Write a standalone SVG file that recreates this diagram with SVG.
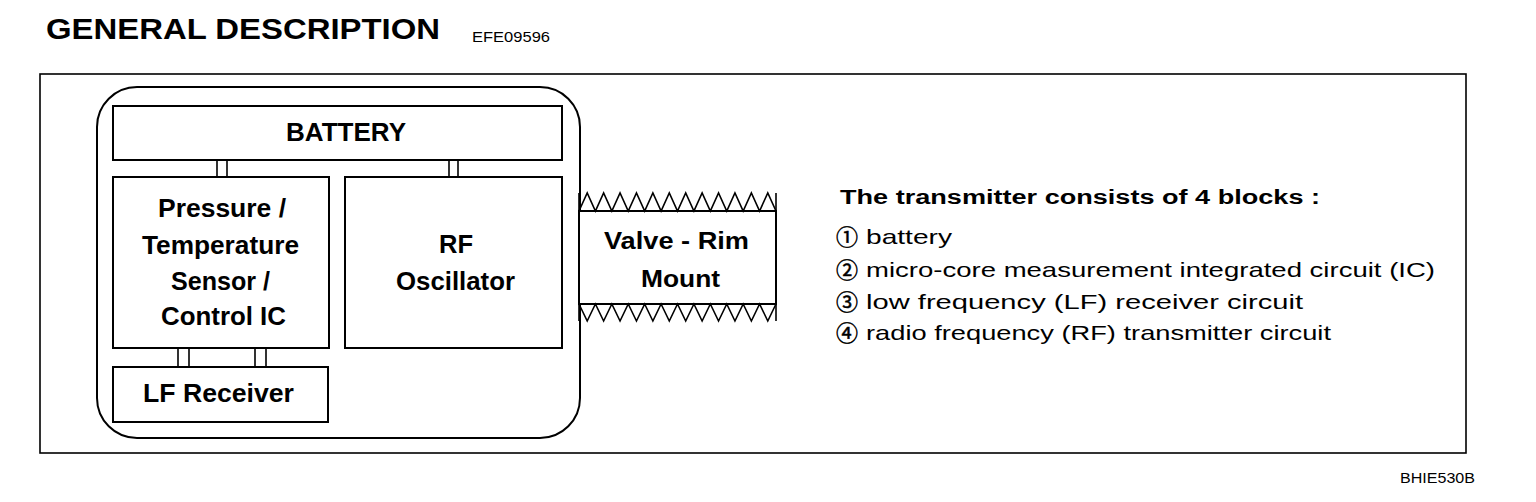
<svg xmlns="http://www.w3.org/2000/svg" width="1536" height="502" viewBox="0 0 1536 502">
<style>
.bg{fill:#ffffff}
.frame{fill:none;stroke:#000;stroke-width:1.6}
.box{fill:#fff;stroke:#000;stroke-width:2}
.link{fill:#fff;stroke:#000;stroke-width:1.6}
.lbl{font-family:"Liberation Sans",Arial,sans-serif;font-weight:bold;fill:#000;text-anchor:start}
.item{font-family:"Liberation Sans","DejaVu Sans",Arial,sans-serif;fill:#000}
.num{font-family:"Noto Sans CJK JP","DejaVu Sans",sans-serif;fill:#000;stroke:#000;stroke-width:0.5}
</style>
<rect class="bg" x="0" y="0" width="1536" height="502"/>
<g id="header">
<text class="lbl" x="46" y="39" font-size="29" textLength="394" lengthAdjust="spacingAndGlyphs">GENERAL DESCRIPTION</text>
<text class="item" x="472" y="42" font-size="14" textLength="78" lengthAdjust="spacingAndGlyphs">EFE09596</text>
</g>
<rect id="panel" class="frame" x="40" y="74" width="1426" height="379"/>
<g id="transmitter">
<rect class="box" x="97" y="87" width="483" height="351" rx="40" ry="40"/>
</g>
<g id="connectors">
<rect class="link" x="217" y="160" width="10" height="17"/>
<rect class="link" x="449" y="160" width="9" height="17"/>
<rect class="link" x="178" y="348" width="11" height="19"/>
<rect class="link" x="255" y="348" width="11" height="19"/>
</g>
<g id="battery">
<rect class="box" x="113" y="106" width="449" height="54"/>
<text class="lbl" x="286" y="141" font-size="25" textLength="120" lengthAdjust="spacingAndGlyphs">BATTERY</text>
</g>
<g id="sensor-ic">
<rect class="box" x="113" y="177" width="216" height="171"/>
<text class="lbl" x="158" y="217" font-size="25" textLength="128" lengthAdjust="spacingAndGlyphs">Pressure /</text>
<text class="lbl" x="142" y="254" font-size="25" textLength="157" lengthAdjust="spacingAndGlyphs">Temperature</text>
<text class="lbl" x="171" y="290" font-size="25" textLength="99" lengthAdjust="spacingAndGlyphs">Sensor /</text>
<text class="lbl" x="161" y="325" font-size="25" textLength="125" lengthAdjust="spacingAndGlyphs">Control IC</text>
</g>
<g id="rf-oscillator">
<rect class="box" x="345" y="177" width="217" height="171"/>
<text class="lbl" x="439" y="253" font-size="25" textLength="34" lengthAdjust="spacingAndGlyphs">RF</text>
<text class="lbl" x="396" y="290" font-size="25" textLength="119" lengthAdjust="spacingAndGlyphs">Oscillator</text>
</g>
<g id="lf-receiver">
<rect class="box" x="113" y="367" width="215" height="55"/>
<text class="lbl" x="143" y="402" font-size="25" textLength="151" lengthAdjust="spacingAndGlyphs">LF Receiver</text>
</g>
<g id="valve-rim-mount">
<rect class="box" x="579" y="211" width="197" height="93"/>
<path class="frame" d="M579,193 V321 M776,193 V321"/>
<path class="frame" d="M579,211 l8.208,-18 l8.208,18 l8.208,-18 l8.208,18 l8.208,-18 l8.208,18 l8.208,-18 l8.208,18 l8.208,-18 l8.208,18 l8.208,-18 l8.208,18 l8.208,-18 l8.208,18 l8.208,-18 l8.208,18 l8.208,-18 l8.208,18 l8.208,-18 l8.208,18 l8.208,-18 l8.208,18 l8.208,-18 l8.208,18"/>
<path class="frame" d="M579,304 l8.208,17 l8.208,-17 l8.208,17 l8.208,-17 l8.208,17 l8.208,-17 l8.208,17 l8.208,-17 l8.208,17 l8.208,-17 l8.208,17 l8.208,-17 l8.208,17 l8.208,-17 l8.208,17 l8.208,-17 l8.208,17 l8.208,-17 l8.208,17 l8.208,-17 l8.208,17 l8.208,-17 l8.208,17 l8.208,-17"/>
<text class="lbl" x="604" y="249" font-size="23" textLength="145" lengthAdjust="spacingAndGlyphs">Valve - Rim</text>
<text class="lbl" x="641" y="287" font-size="23" textLength="79" lengthAdjust="spacingAndGlyphs">Mount</text>
</g>
<g id="description">
<text class="lbl" x="840" y="204" font-size="20" textLength="480" lengthAdjust="spacingAndGlyphs">The transmitter consists of 4 blocks :</text>
<text class="num" x="836" y="245" font-size="22">①</text>
<text class="item" x="866" y="244" font-size="21" textLength="86" lengthAdjust="spacingAndGlyphs">battery</text>
<text class="num" x="836" y="278" font-size="22">②</text>
<text class="item" x="866" y="277" font-size="21" textLength="569" lengthAdjust="spacingAndGlyphs">micro-core measurement integrated circuit (IC)</text>
<text class="num" x="836" y="310" font-size="22">③</text>
<text class="item" x="866" y="309" font-size="21" textLength="437" lengthAdjust="spacingAndGlyphs">low frequency (LF) receiver circuit</text>
<text class="num" x="836" y="341" font-size="22">④</text>
<text class="item" x="866" y="340" font-size="21" textLength="465" lengthAdjust="spacingAndGlyphs">radio frequency (RF) transmitter circuit</text>
</g>
<text id="figure-code" class="item" x="1400" y="483" font-size="14" textLength="75" lengthAdjust="spacingAndGlyphs">BHIE530B</text>
</svg>
